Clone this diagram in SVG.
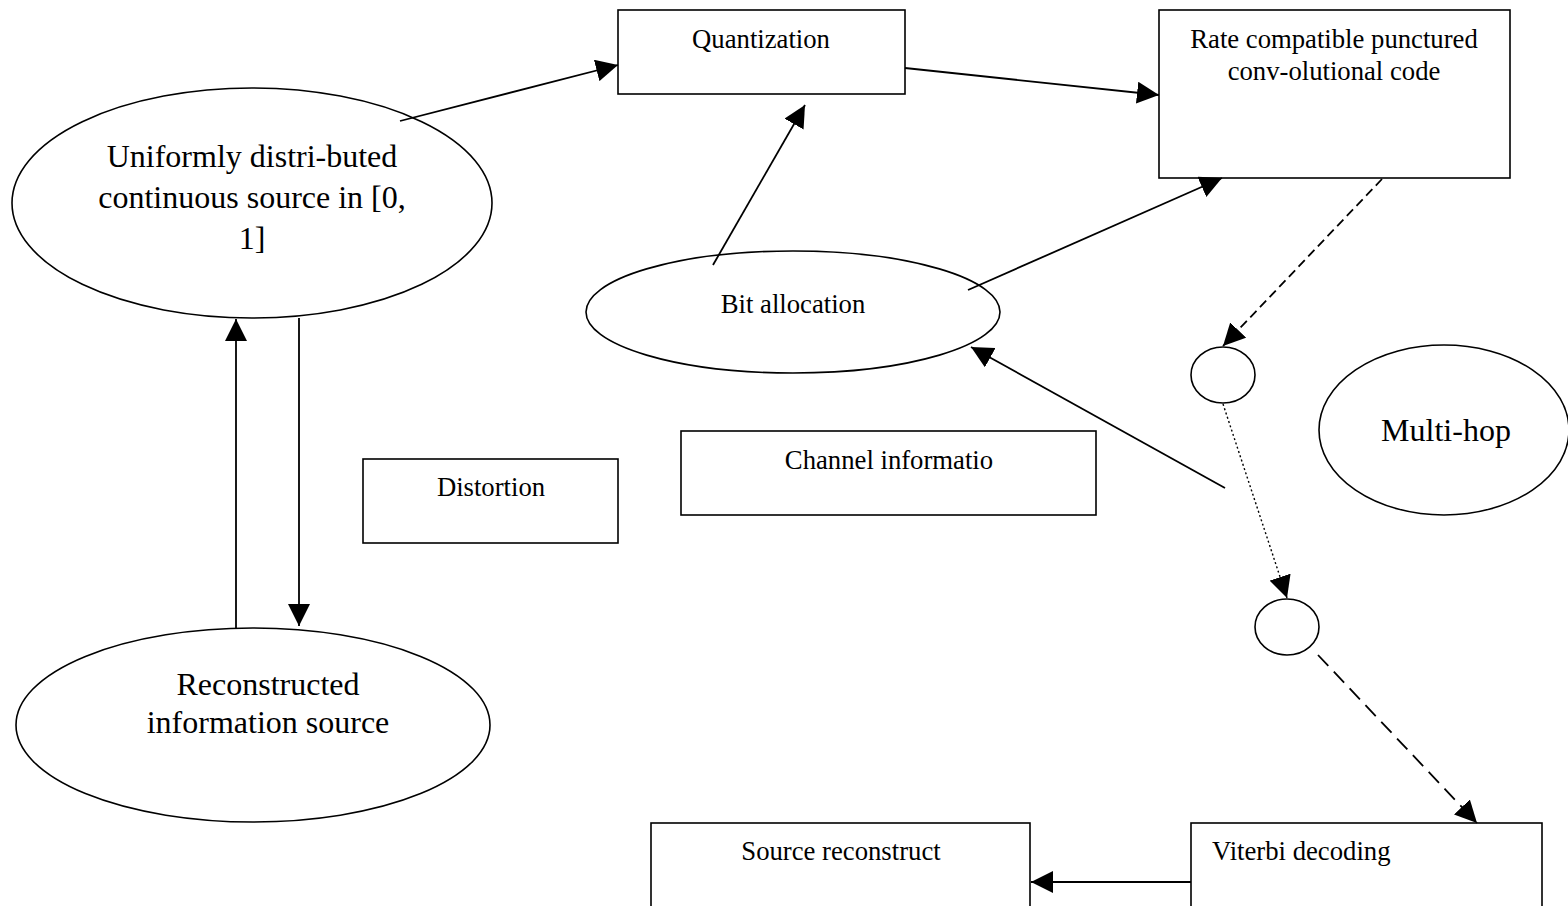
<svg xmlns="http://www.w3.org/2000/svg" width="1568" height="906" viewBox="0 0 1568 906">
<style>
.s{fill:#fff;stroke:#000;stroke-width:1.6}
.t{font-family:"Liberation Serif","Times New Roman",serif;fill:#000}
.b{font-size:26.7px}
.L{font-size:32px}
.c{fill:none;stroke:#000;stroke-width:1.8}
.d1{stroke-dasharray:9 5}
.d2{stroke-dasharray:2 2.5;stroke-width:1.4}
.d3{stroke-dasharray:15 8}
</style>
<defs>
<marker id="a" markerUnits="userSpaceOnUse" markerWidth="22" markerHeight="22" viewBox="0 0 20 20" refX="20" refY="10" orient="auto">
<path d="M0,0 L20,10 L0,20 Z" fill="#000"/>
</marker>
</defs>
<rect width="1568" height="906" fill="#fff"/>
<g id="n-uniform"><ellipse class="s" cx="252" cy="203" rx="240" ry="115"/>
<text class="t L" text-anchor="middle" x="252" y="167">Uniformly distri-buted</text>
<text class="t L" text-anchor="middle" x="252" y="208">continuous source in [0,</text>
<text class="t L" text-anchor="middle" x="252" y="249">1]</text></g>
<g id="n-recon"><ellipse class="s" cx="253" cy="725" rx="237" ry="97"/>
<text class="t L" text-anchor="middle" x="268" y="695">Reconstructed</text>
<text class="t L" text-anchor="middle" x="268" y="733">information source</text></g>
<g id="n-quant"><rect class="s" x="618" y="10" width="287" height="84"/>
<text class="t b" text-anchor="middle" x="761" y="48">Quantization</text></g>
<g id="n-rate"><rect class="s" x="1159" y="10" width="351" height="168"/>
<text class="t b" text-anchor="middle" x="1334" y="48">Rate compatible punctured</text>
<text class="t b" text-anchor="middle" x="1334" y="80">conv-olutional code</text></g>
<g id="n-bit"><ellipse class="s" cx="793" cy="312" rx="207" ry="61"/>
<text class="t b" text-anchor="middle" x="793" y="313">Bit allocation</text></g>
<g id="n-c1"><ellipse class="s" cx="1223" cy="375" rx="32" ry="28"/></g>
<g id="n-c2"><ellipse class="s" cx="1287" cy="627" rx="32" ry="28"/></g>
<g id="n-multihop"><ellipse class="s" cx="1444" cy="430" rx="125" ry="85"/>
<text class="t L" text-anchor="middle" x="1446" y="441">Multi-hop</text></g>
<g id="n-channel"><rect class="s" x="681" y="431" width="415" height="84"/>
<text class="t b" text-anchor="middle" x="889" y="469">Channel informatio</text></g>
<g id="n-distortion"><rect class="s" x="363" y="459" width="255" height="84"/>
<text class="t b" text-anchor="middle" x="491" y="496">Distortion</text></g>
<g id="n-srcrec"><rect class="s" x="651" y="823" width="379" height="100"/>
<text class="t b" text-anchor="middle" x="841" y="860">Source reconstruct</text></g>
<g id="n-viterbi"><rect class="s" x="1191" y="823" width="351" height="100"/>
<text class="t b" x="1212" y="860">Viterbi decoding</text></g>
<g id="connectors">
<line class="c" x1="400" y1="121" x2="618" y2="65" marker-end="url(#a)"/>
<line class="c" x1="905" y1="68" x2="1159" y2="95" marker-end="url(#a)"/>
<line class="c" x1="713" y1="265" x2="805" y2="105" marker-end="url(#a)"/>
<line class="c" x1="968" y1="290" x2="1222" y2="178" marker-end="url(#a)"/>
<line class="c" x1="1225" y1="488" x2="971" y2="347" marker-end="url(#a)"/>
<line class="c d1" x1="1382" y1="179" x2="1223" y2="346" marker-end="url(#a)"/>
<line class="c d2" x1="1223" y1="404" x2="1287" y2="598" marker-end="url(#a)"/>
<line class="c d3" x1="1318" y1="655" x2="1477" y2="823" marker-end="url(#a)"/>
<line class="c" x1="236" y1="628" x2="236" y2="319" marker-end="url(#a)"/>
<line class="c" x1="299" y1="318" x2="299" y2="626" marker-end="url(#a)"/>
<line class="c" x1="1191" y1="882" x2="1031" y2="882" marker-end="url(#a)"/>
</g>
</svg>
